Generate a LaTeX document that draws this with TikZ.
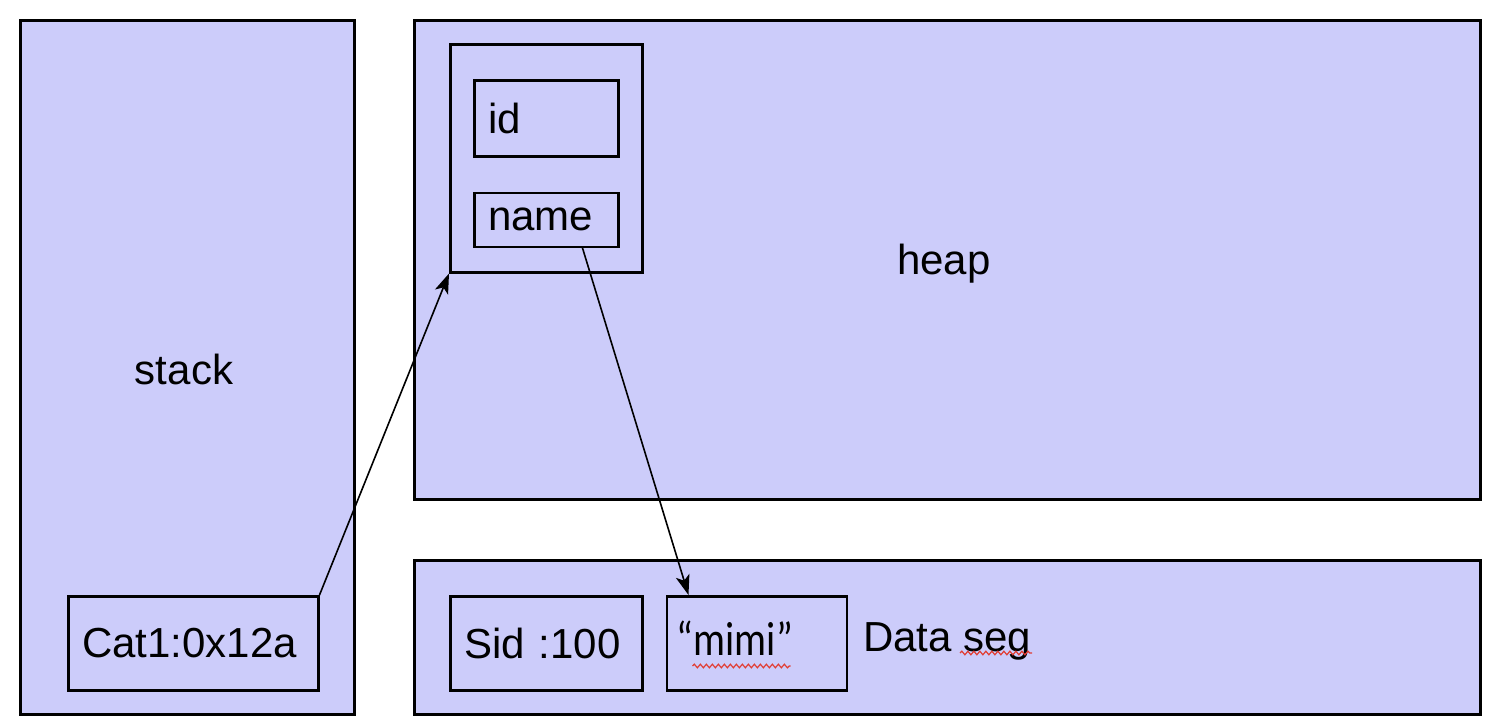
\documentclass[tikz,border=0pt]{standalone}
\usepackage{graphicx}
\usepackage{fontspec}
\setmainfont{Liberation Sans}
\newfontfamily\quotefont{Carlito}
\usetikzlibrary{positioning,arrows.meta,decorations.pathmorphing}
\definecolor{segfill}{RGB}{204,204,250}
\definecolor{spellred}{RGB}{225,60,50}

\begin{document}
\begin{tikzpicture}[x=0.5pt, y=-0.5pt, line width=1.25pt,
    every node/.style={font=\fontsize{21}{25}\selectfont},
    region/.style={rectangle, draw, fill=segfill, anchor=north west, inner sep=0pt},
    cell/.style={rectangle, draw, anchor=north west, inner xsep=7pt, inner ysep=0pt, align=left},
    lbl/.style={inner sep=0pt},
    ptr/.style={line width=0.8pt, -{Stealth[length=10pt, width=7pt, inset=2.5pt]}},
    squiggle/.style={spellred, line width=0.6pt, decorate, decoration={snake, amplitude=0.9pt, segment length=3pt}}]
    \useasboundingbox (0,0) rectangle (1496,728);
    % memory areas
    \node[region, minimum width=167pt, minimum height=347pt] (stack) at (19,19) {};
    \node[region, minimum width=533pt, minimum height=239.5pt] (heap) at (413,19) {};
    \node[region, minimum width=533pt, minimum height=77pt] (data) at (413,559) {};
    \node[lbl] (stacklbl) at (184,369) {stack};
    \node[lbl] (heaplbl) at (944,264) {heap};
    \node[lbl, anchor=west] (datalbl) at (862,641) {Data seg};
    % stack variable
    \node[cell, minimum height=47pt, text width=111pt] (cat) at (67,595) {Cat1:0x12a};
    % object on the heap
    \node[cell, minimum width=96pt, minimum height=114pt] (obj) at (449,43) {};
    \node[cell, minimum height=38pt, text width=58pt] (id) at (473,79) {id};
    \node[cell, minimum height=27pt, text width=58pt, below=17pt of id] (name) {name};
    % data segment
    \node[cell, minimum height=47pt, text width=82pt] (sid) at (449,595) {Sid :100};
    \node[cell, inner xsep=5pt, minimum height=47pt, text width=80pt, text depth=5pt, right=11pt of sid] (mimi) {\quotefont\fontsize{20}{24}\selectfont\scalebox{1}[1.2]{“mimi”}};
    % Arrows
    \draw[ptr] (cat.north east) -- (obj.south west);
    \draw[ptr] ([xshift=-18.5pt]name.south east) -- ([xshift=11.5pt]mimi.north west);
    % spelling marks
    \draw[squiggle] ([shift={(27,71)}]mimi.north west) -- ([shift={(125,71)}]mimi.north west);
    \draw[squiggle] ([shift={(98,12)}]datalbl.west) -- ([shift={(170,12)}]datalbl.west);
\end{tikzpicture}
\end{document}
